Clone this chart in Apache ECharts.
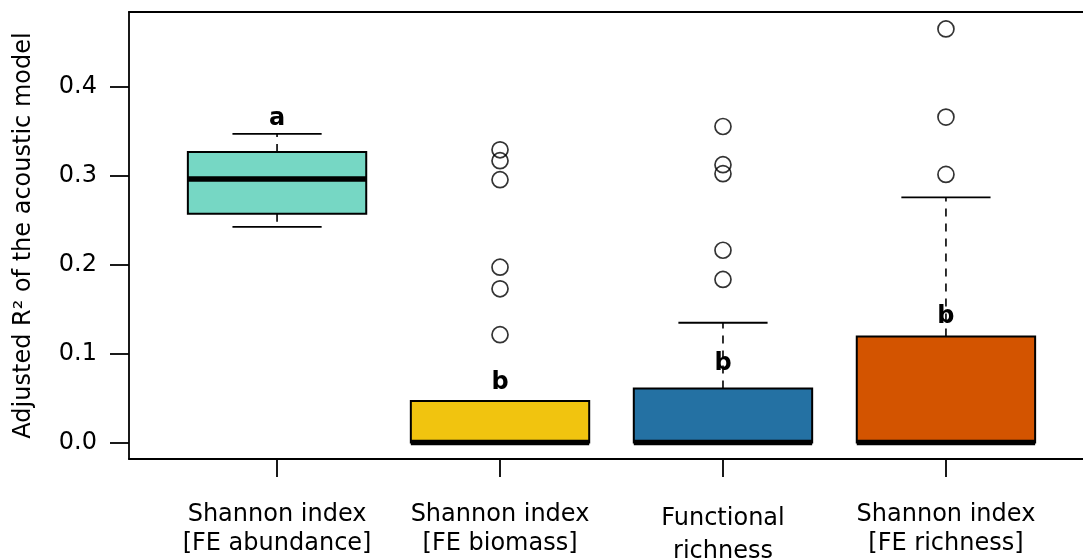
<!DOCTYPE html>
<html>
<head>
<meta charset="utf-8">
<script src="https://cdn.jsdelivr.net/npm/echarts@6/dist/echarts.min.js"></script>
<style>
html,body{margin:0;padding:0;background:#fff;}
#chart{width:1083px;height:559px;}
</style>
</head>
<body>
<div id="chart"></div>
<script>
// ---- data ----
const categories = ['Shannon index\n[FE abundance]', 'Shannon index\n[FE biomass]', 'Functional\nrichness', 'Shannon index\n[FE richness]'];
const boxColors = ['#76D7C4', '#F1C40F', '#2471A3', '#D35400'];
// [min(whisker), Q1, median, Q3, max(whisker)]
const boxStats = [
  [0.2427, 0.2576, 0.2966, 0.3270, 0.3475],
  [0.0, 0.0, 0.0, 0.0467, 0.0467],
  [0.0, 0.0, 0.0, 0.0607, 0.1348],
  [0.0, 0.0, 0.0, 0.1194, 0.2760]
];
const outliers = [
  [],
  [0.3295, 0.3172, 0.2958, 0.1973, 0.1730, 0.1213],
  [0.3557, 0.3127, 0.3026, 0.2164, 0.1835],
  [0.4655, 0.3663, 0.3018]
];
const letters = ['a', 'b', 'b', 'b'];
const letterY = [0.364, 0.0667, 0.089, 0.142];
const yTicks = [0, 0.1, 0.2, 0.3, 0.4];
const yName = 'Adjusted R² of the acoustic model';

// ---- build ----
const boxData = boxStats.map((s, i) => [i + 1].concat(s));
const outlierData = [];
outliers.forEach((arr, i) => arr.forEach(v => outlierData.push([i + 1, v])));
const letterData = letters.map((t, i) => [i + 1, letterY[i]]);

const FONT = 'DejaVu Sans';
const LW = 1.8;
const chart = echarts.init(document.getElementById('chart'), null, { renderer: 'canvas' });

function renderBox(params, api) {
  const x = api.value(0);
  const mn = api.value(1), q1 = api.value(2), md = api.value(3), q3 = api.value(4), mx = api.value(5);
  const hw = 0.4, cw = 0.2;
  const pL = (v) => api.coord([x - hw, v]);
  const pR = (v) => api.coord([x + hw, v]);
  const pC = (v) => api.coord([x, v]);
  const cL = (v) => api.coord([x - cw, v]);
  const cR = (v) => api.coord([x + cw, v]);
  const children = [];
  const dashStyle = { stroke: '#000', lineWidth: 1.6, lineDash: [8, 7] };
  const solid = { stroke: '#000', lineWidth: LW };
  if (mx > q3) {
    children.push({ type: 'line', shape: { x1: pC(q3)[0], y1: pC(q3)[1], x2: pC(mx)[0], y2: pC(mx)[1] }, style: dashStyle });
  }
  if (mn < q1) {
    children.push({ type: 'line', shape: { x1: pC(q1)[0], y1: pC(q1)[1], x2: pC(mn)[0], y2: pC(mn)[1] }, style: dashStyle });
  }
  children.push({ type: 'line', shape: { x1: cL(mx)[0], y1: cL(mx)[1], x2: cR(mx)[0], y2: cR(mx)[1] }, style: solid });
  children.push({ type: 'line', shape: { x1: cL(mn)[0], y1: cL(mn)[1], x2: cR(mn)[0], y2: cR(mn)[1] }, style: solid });
  const tl = pL(q3), br = pR(q1);
  children.push({
    type: 'rect',
    shape: { x: tl[0], y: tl[1], width: br[0] - tl[0], height: br[1] - tl[1] },
    style: { fill: boxColors[params.dataIndex], stroke: '#000', lineWidth: 2 }
  });
  children.push({ type: 'line', shape: { x1: pL(md)[0], y1: pL(md)[1], x2: pR(md)[0], y2: pR(md)[1] }, style: { stroke: '#000', lineWidth: 5.5 } });
  return { type: 'group', children: children };
}

function renderLetter(params, api) {
  const p = api.coord([api.value(0), api.value(1)]);
  return {
    type: 'text',
    x: p[0], y: p[1],
    style: {
      text: letters[params.dataIndex],
      fill: '#000',
      font: 'bold 24px "DejaVu Sans"',
      align: 'center', verticalAlign: 'middle'
    }
  };
}

const option = {
  animation: false,
  backgroundColor: '#fff',
  grid: { left: 129, top: 12, right: -11, bottom: 100, outerBoundsMode: 'none', containLabel: false, show: false },
  xAxis: [{
    type: 'value',
    min: 0.336, max: 4.664,
    splitLine: { show: false },
    axisLine: { show: true, onZero: false, lineStyle: { color: '#000', width: LW } },
    axisTick: { show: true, inside: false, length: 18, customValues: [1, 2, 3, 4], lineStyle: { color: '#000', width: LW } },
    axisLabel: {
      customValues: [1, 2, 3, 4],
      formatter: (v) => {
        const i = Math.round(v) - 1;
        const parts = (categories[i] || '').split('\n');
        if (i === 2) return '{d|' + parts[0] + '}\n{n|' + parts[1] + '}';
        return '{n|' + parts[0] + '}\n{n|' + parts[1] + '}';
      },
      rich: {
        n: { fontFamily: FONT, fontSize: 24, color: '#000', lineHeight: 29 },
        d: { fontFamily: FONT, fontSize: 24, color: '#000', lineHeight: 37 }
      },
      fontFamily: FONT, fontSize: 24, color: '#000', lineHeight: 29, margin: 41
    }
  }, {
    type: 'value',
    position: 'top',
    min: 0.336, max: 4.664,
    splitLine: { show: false },
    axisLine: { show: true, onZero: false, lineStyle: { color: '#000', width: LW } },
    axisTick: { show: false },
    axisLabel: { show: false }
  }],
  yAxis: {
    type: 'value',
    min: -0.0186, max: 0.4846,
    splitLine: { show: false },
    axisLine: { show: true, onZero: false, lineStyle: { color: '#000', width: LW } },
    axisTick: { show: true, inside: false, length: 19, customValues: yTicks, lineStyle: { color: '#000', width: LW } },
    axisLabel: {
      customValues: yTicks,
      formatter: (v) => v.toFixed(1),
      fontFamily: FONT, fontSize: 24, color: '#000', margin: 32
    },
    name: yName,
    nameLocation: 'middle',
    nameRotate: 90,
    nameGap: 93,
    nameTextStyle: { fontFamily: FONT, fontSize: 24, color: '#000' }
  },
  series: [
    {
      type: 'custom',
      renderItem: renderBox,
      data: boxData,
      encode: { x: 0, y: [1, 2, 3, 4, 5] },
      z: 2
    },
    {
      type: 'scatter',
      data: outlierData,
      symbol: 'circle',
      symbolSize: 16,
      itemStyle: { color: 'rgba(0,0,0,0)', borderColor: '#000', borderWidth: 1.7 },
      z: 3
    },
    {
      type: 'custom',
      renderItem: renderLetter,
      data: letterData,
      encode: { x: 0, y: 1 },
      z: 4
    }
  ]
};
chart.setOption(option);
</script>
</body>
</html>
